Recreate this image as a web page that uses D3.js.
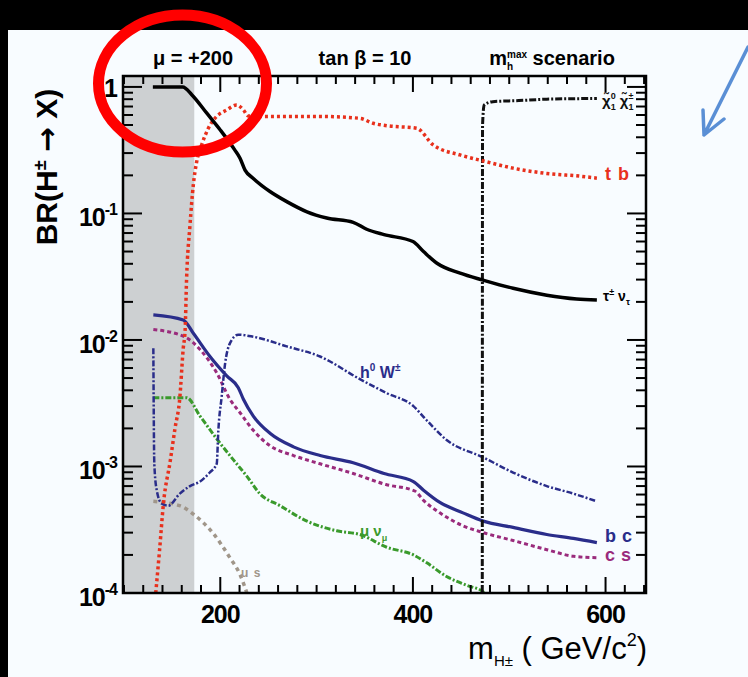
<!DOCTYPE html>
<meta charset="utf-8">
<head>
    <title>BR(H+ -> X)</title>
</head>
<style>

 body {
     margin: 0px;
     background: black;
 }

 svg {
     display: block;
 }

 text {
     font-family: "Liberation Sans", Arial, sans-serif;
 }

 .frame {
     fill: none;
     stroke: black;
     stroke-width: 2.5px;
 }

 .tick {
     stroke: black;
     stroke-width: 2px;
 }

 .curve {
     fill: none;
 }

</style>
<body>
    <div id="chart"></div>
    <script src="https://d3js.org/d3.v7.min.js"></script>
    <script>

     // m_H+ (GeV/c^2), branching ratio
     var tauNu = [[130,1],[161,1],[170.6,0.865],[186,0.62],[200,0.457],[215,0.318],
                  [220.5,0.273],[225.7,0.22],[234,0.19],[251.6,0.149],[269,0.124],
                  [290,0.103],[310.5,0.092],[338,0.085],[352,0.075],[370,0.068],
                  [400,0.06],[411,0.05],[425,0.0404],[449,0.0337],[473,0.0297],
                  [504,0.0256],[539,0.0226],[570,0.0211],[591,0.0207]];

     var tb = [[133,1e-4],[137,2.2e-4],[141,5.1e-4],[148,1.1e-3],[153,2e-3],
               [158,3.5e-3],[161.5,0.0085],[163.5,0.012],[165,0.03],[168.5,0.08],
               [172,0.168],[175.5,0.256],[180.7,0.348],[187.6,0.471],[196,0.582],
               [206.7,0.658],[217,0.72],[224,0.658],[229,0.59],[241,0.585],
               [300,0.585],[345,0.565],[358.6,0.516],[372.8,0.494],[404,0.471],
               [421,0.348],[449,0.29],[473,0.26],[504,0.228],[539,0.207],
               [573.6,0.197],[591,0.19]];

     var chiChi = [[472,5e-5],[472.3,0.5],[474,0.72],[483,0.765],[510,0.78],
                   [539,0.8],[591,0.81]];

     var h0W = [[130.5,0.0086],[130.8,0.0036],[131.5,1.05e-3],[134,6.5e-4],
                [139,5.1e-4],[146,4.9e-4],[158,6.1e-4],[168.6,7.0e-4],[179,7.6e-4],
                [189.3,9.0e-4],[196.3,1.05e-3],[198,1.93e-3],[201.5,3.6e-3],
                [205,6.5e-3],[210,9.4e-3],[218.7,0.011],[234.3,0.0106],[269,0.0089],
                [303.6,0.0074],[345,0.0049],[372.8,0.0038],[400.5,0.003],
                [414,0.00233],[435,0.00162],[473,0.00118],[504,8.96e-4],
                [539,7.0e-4],[566.6,6.1e-4],[591,5.3e-4]];

     var bc = [[130.5,0.0158],[161.6,0.0144],[172,0.0113],[189.3,0.0074],
               [206.7,0.0052],[218.7,0.0042],[224,0.0034],[234.3,0.0025],
               [251.6,0.00183],[276,0.00143],[303.6,0.00122],[338,0.00107],
               [370,8.8e-4],[400.5,7.6e-4],[411,6.5e-4],[428,5.2e-4],[452,4.3e-4],
               [473,3.7e-4],[504,3.3e-4],[539,2.9e-4],[566.6,2.7e-4],[591,2.5e-4]];

     var cs = [[130.5,0.0121],[163,0.0106],[179,0.0084],[196.3,0.0055],[210,0.0034],
               [220.5,0.00266],[234.3,0.00193],[251.6,0.00146],[276,0.00122],
               [303.6,0.00105],[338,8.8e-4],[372,7.2e-4],[402,6.4e-4],[411,5.4e-4],
               [428,4.3e-4],[452,3.4e-4],[473,3.0e-4],[504,2.6e-4],[539,2.2e-4],
               [566.6,1.95e-4],[591,1.9e-4]];

     var muNu = [[130.5,0.0035],[165,0.0035],[179,0.0025],[200,0.00152],
                 [217,1.05e-3],[227.5,8.4e-4],[241,6.1e-4],[262,4.9e-4],[290,3.7e-4],
                 [321,3.1e-4],[345,2.9e-4],[372.8,2.3e-4],[400.5,2.0e-4],
                 [414,1.74e-4],[435,1.35e-4],[456,1.15e-4],[473,1.02e-4],[480,0.9e-4]];

     var us = [[130.5,5.3e-4],[158,4.9e-4],[172,4.2e-4],[192.8,2.95e-4],
               [210,1.9e-4],[220.5,1.4e-4],[228,0.98e-4]];

     var excluded = [99, 173];   // grey band, m_H+ < m_t

     var xMajor = [200, 400, 600];
     var xMinor = d3.range(100, 641, 20);
     var yMajor = [1, 1e-1, 1e-2, 1e-3, 1e-4];
     var yExp = ["", "-1", "-2", "-3", "-4"];

     var width = 748,
         height = 677;

     var svg = d3.select("#chart").append("svg")
                 .attr("width", width)
                 .attr("height", height);

     var x = d3.scaleLinear()
               .domain([99, 642])
               .range([123, 646]);

     var y = d3.scaleLog()
               .domain([1e-4, 1.22])
               .range([593, 76]);

     var x0 = x.range()[0], x1 = x.range()[1],
         y0 = y.range()[0], y1 = y.range()[1];

     // page background
     svg.append("rect")
        .attr("x", 8).attr("y", 30)
        .attr("width", width - 8).attr("height", height - 30)
        .attr("fill", "#f8fcff");

     svg.append("clipPath")
        .attr("id", "plot")
        .append("rect")
        .attr("x", x0).attr("y", y1)
        .attr("width", x1 - x0).attr("height", y0 - y1);

     svg.append("rect")
        .attr("x", x(excluded[0])).attr("y", y1)
        .attr("width", x(excluded[1]) - x(excluded[0]))
        .attr("height", y0 - y1)
        .attr("fill", "#cdd0d2");

     var line = d3.line()
                  .curve(d3.curveMonotoneX)
                  .x(function(d) { return x(d[0]); })
                  .y(function(d) { return y(d[1]); });

     var curves = [
         {data: us,     color: "#a0968a", w: 3.5, dash: "4,4"},
         {data: muNu,   color: "#3a9a2c", w: 3,   dash: "6,2,2,2"},
         {data: cs,     color: "#9a2b7c", w: 3,   dash: "4,3"},
         {data: bc,     color: "#2a2d8a", w: 3.2, dash: null},
         {data: h0W,    color: "#2a2d8a", w: 2.5, dash: "6,2,2,2"},
         {data: chiChi, color: "#111111", w: 3,   dash: "7,2,2,2"},
         {data: tb,     color: "#e8301c", w: 3.5, dash: "3,3"},
         {data: tauNu,  color: "#000000", w: 3.5, dash: null}
     ];

     svg.append("g")
        .attr("clip-path", "url(#plot)")
        .selectAll("path")
        .data(curves)
        .enter()
        .append("path")
        .attr("class", "curve")
        .attr("d", function(d) { return line(d.data); })
        .attr("stroke", function(d) { return d.color; })
        .attr("stroke-width", function(d) { return d.w; })
        .attr("stroke-dasharray", function(d) { return d.dash; });

     // ticks on all four sides, pointing inwards
     var ticks = svg.append("g");

     xMinor.forEach(function(v) {
         var len = xMajor.indexOf(v) >= 0 ? 16 : 8;
         ticks.append("line").attr("class", "tick")
              .attr("x1", x(v)).attr("x2", x(v))
              .attr("y1", y0).attr("y2", y0 - len);
         ticks.append("line").attr("class", "tick")
              .attr("x1", x(v)).attr("x2", x(v))
              .attr("y1", y1).attr("y2", y1 + len);
     });

     y.ticks().forEach(function(v) {
         var lg = Math.log10(v);
         var len = Math.abs(lg - Math.round(lg)) < 1e-6 ? 19 : 10;
         ticks.append("line").attr("class", "tick")
              .attr("x1", x0).attr("x2", x0 + len)
              .attr("y1", y(v)).attr("y2", y(v));
         ticks.append("line").attr("class", "tick")
              .attr("x1", x1).attr("x2", x1 - len)
              .attr("y1", y(v)).attr("y2", y(v));
     });

     svg.append("rect")
        .attr("class", "frame")
        .attr("x", x0).attr("y", y1)
        .attr("width", x1 - x0).attr("height", y0 - y1);

     // tick labels
     svg.append("g")
        .selectAll("text")
        .data(xMajor)
        .enter()
        .append("text")
        .attr("x", function(d) { return x(d); })
        .attr("y", 623)
        .attr("text-anchor", "middle")
        .attr("font-size", "25px")
        .attr("font-weight", "bold")
        .attr("letter-spacing", "-1px")
        .text(function(d) { return d; });

     yMajor.forEach(function(v, i) {
         var t = svg.append("text")
                    .attr("x", 117)
                    .attr("y", y(v) + (yExp[i] ? 13 : 10))
                    .attr("text-anchor", "end")
                    .attr("font-size", "25px")
                    .attr("font-weight", "bold")
                    .attr("letter-spacing", "-1px");
         if (yExp[i]) {
             t.append("tspan").text("10");
             t.append("tspan").attr("font-size", "16px").attr("dy", -11).text(yExp[i]);
         } else {
             t.text("1");
         }
     });

     // axis titles
     var yt = svg.append("text")
                 .attr("transform", "translate(57,167) rotate(-90)")
                 .attr("text-anchor", "middle")
                 .attr("font-size", "30px")
                 .attr("font-weight", "bold");
     yt.append("tspan").text("BR(H");
     yt.append("tspan").attr("font-size", "18px").attr("dy", -11).text("±");
     yt.append("tspan").attr("dy", 11).text(" ");
     yt.append("tspan").style("font-family", "'DejaVu Sans', sans-serif")
       .attr("font-size", "30px").text("\u2192");
     yt.append("tspan").text(" X)");

     var xt = svg.append("text")
                 .attr("x", 647)
                 .attr("y", 659)
                 .attr("text-anchor", "end")
                 .attr("font-size", "31px");
     xt.append("tspan").text("m");
     xt.append("tspan").attr("font-size", "15px").attr("dy", 7).text("H±");
     xt.append("tspan").attr("dy", -7).text(" ( GeV/c");
     xt.append("tspan").attr("font-size", "18px").attr("dy", -13).text("2");
     xt.append("tspan").attr("dy", 13).text(")");

     // header
     var head = svg.append("g")
                   .attr("font-size", "20px")
                   .attr("font-weight", "bold")
                   .attr("text-anchor", "middle");
     head.append("text").attr("x", 193).attr("y", 65).text("\u03bc = +200");
     head.append("text").attr("x", 365).attr("y", 65).text("tan \u03b2 = 10");
     var sc = head.append("text").attr("x", 552).attr("y", 65);
     sc.append("tspan").text("m");
     sc.append("tspan").attr("font-size", "10px").attr("dy", 5).text("h");
     sc.append("tspan").attr("font-size", "10px").attr("dx", -6).attr("dy", -12).text("max");
     sc.append("tspan").attr("dy", 7).text(" scenario");

     // curve labels
     function label(px, py, color, size) {
         return svg.append("text")
                   .attr("x", px).attr("y", py)
                   .attr("fill", color)
                   .attr("font-size", size)
                   .attr("font-weight", "bold");
     }

     var lc = label(602, 106, "#111", "15px");
     lc.append("tspan").text("\u03c7\u0303");
     lc.append("tspan").attr("font-size", "9px").attr("dy", -7).text("0");
     lc.append("tspan").attr("font-size", "9px").attr("dx", -5).attr("dy", 11).text("1");
     lc.append("tspan").attr("dy", -4).text(" \u03c7\u0303");
     lc.append("tspan").attr("font-size", "9px").attr("dy", -7).text("±");
     lc.append("tspan").attr("font-size", "9px").attr("dx", -5).attr("dy", 11).text("1");

     label(605, 180, "#e8301c", "18px").attr("letter-spacing", "1px").text("t b");

     var lt = label(603, 301, "#000", "14px");
     lt.append("tspan").text("\u03c4");
     lt.append("tspan").attr("font-size", "9px").attr("dy", -6).text("±");
     lt.append("tspan").attr("dy", 6).text(" \u03bd");
     lt.append("tspan").attr("font-size", "9px").attr("dy", 4).text("\u03c4");

     var lh = label(360, 378, "#2a2d8a", "16px");
     lh.append("tspan").text("h");
     lh.append("tspan").attr("font-size", "10px").attr("dy", -7).text("0");
     lh.append("tspan").attr("dy", 7).text(" W");
     lh.append("tspan").attr("font-size", "10px").attr("dy", -7).text("±");

     label(605, 542, "#2a2d8a", "18px").attr("letter-spacing", "0.5px").text("b c");
     label(605, 561, "#9a2b7c", "18px").attr("letter-spacing", "0.5px").text("c s");

     var lm = label(360, 536, "#3a9a2c", "15px");
     lm.append("tspan").text("\u03bc \u03bd");
     lm.append("tspan").attr("font-size", "9px").attr("dy", 5).text("\u03bc");

     label(241, 577, "#a0968a", "12px").attr("letter-spacing", "1px").text("u s");

     // annotations drawn on the slide
     svg.append("ellipse")
        .attr("cx", 182.5).attr("cy", 83.5)
        .attr("rx", 84).attr("ry", 68.5)
        .attr("fill", "none")
        .attr("stroke", "#ff0000")
        .attr("stroke-width", 11);

     svg.append("path")
        .attr("d", "M748,47L704,135M703,110L704,135L724,119")
        .attr("fill", "none")
        .attr("stroke", "#5a8fd5")
        .attr("stroke-width", 3.5)
        .attr("stroke-linecap", "round")
        .attr("stroke-linejoin", "round");

    </script>
</body>
